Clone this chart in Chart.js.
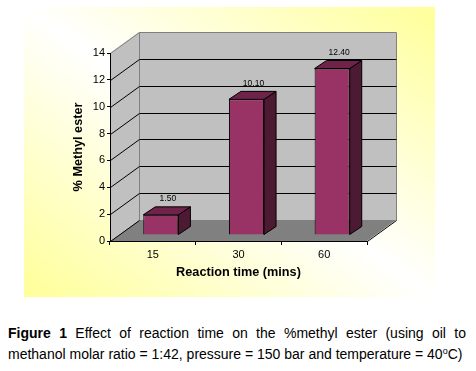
<!DOCTYPE html>
<html><head><meta charset="utf-8">
<script src="https://cdn.jsdelivr.net/npm/chart.js@4"></script>
<style>
html,body{margin:0;padding:0;background:#fff;width:476px;height:371px;overflow:hidden;font-family:"Liberation Sans",Arial,sans-serif;}
#box{position:absolute;left:24px;top:7px;width:411px;height:290px;background:linear-gradient(to top right,#ffff99 0%,#ffffff 50%,#ffff99 100%);}
#c{display:block;}
#cap{position:absolute;left:8px;top:323px;width:458px;font-size:14px;line-height:21px;color:#000;}
#cap .l1{text-align:justify;text-align-last:justify;}
sup{font-size:9px;vertical-align:5px;line-height:0;}
</style></head><body>
<div id="box"><canvas id="c" width="411" height="290"></canvas></div>
<div id="cap"><div class="l1"><b>Figure 1</b> Effect of reaction time on the %methyl ester (using oil to</div><div>methanol molar ratio = 1:42, pressure = 150 bar and temperature = 40<sup>o</sup>C)</div></div>
<script>
const categories = ['15', '30', '60'];
const methylEster = [1.5, 10.1, 12.4];
const yMin = 0, yMax = 14, yStep = 2;
const xTitle = 'Reaction time (mins)';
const yTitle = '% Methyl ester';

const DX = 29, DY = -21;   // wall depth
const SX = 8, SY = -6;     // bar front-face depth shift
const BX = 12, BY = -8;    // bar depth
const px = v => Math.round(v) + 0.5;

const threeD = {
  id: 'threeD',
  beforeDraw(chart) {
    const {ctx, chartArea: {left, right}, scales: {y}} = chart;
    const yT = y.getPixelForValue(yMax), y0 = y.getPixelForValue(yMin);
    ctx.save();
    ctx.lineWidth = 1;
    ctx.fillStyle = '#808080';
    ctx.beginPath();
    ctx.moveTo(left, y0); ctx.lineTo(left + DX, y0 + DY); ctx.lineTo(right + DX, y0 + DY); ctx.lineTo(right, y0);
    ctx.closePath(); ctx.fill();
    ctx.fillStyle = '#c0c0c0';
    ctx.fillRect(left + DX, yT + DY, right - left, y0 - yT);
    ctx.beginPath();
    ctx.moveTo(left, yT); ctx.lineTo(left + DX, yT + DY); ctx.lineTo(left + DX, y0 + DY); ctx.lineTo(left, y0);
    ctx.closePath(); ctx.fill();
    ctx.strokeStyle = '#808080';
    ctx.beginPath();
    ctx.moveTo(px(left), px(yT)); ctx.lineTo(px(left + DX), px(yT + DY));
    ctx.lineTo(px(right + DX), px(yT + DY)); ctx.lineTo(px(right + DX), px(y0 + DY));
    ctx.moveTo(px(left + DX), px(yT + DY)); ctx.lineTo(px(left + DX), px(y0 + DY));
    ctx.stroke();
    ctx.strokeStyle = '#000';
    ctx.beginPath();
    for (let v = yMin + yStep; v < yMax; v += yStep) {
      const yy = y.getPixelForValue(v);
      ctx.moveTo(px(left), px(yy)); ctx.lineTo(px(left + DX), px(yy + DY)); ctx.lineTo(px(right + DX), px(yy + DY));
    }
    ctx.moveTo(px(left), px(y0)); ctx.lineTo(px(left + DX), px(y0 + DY));
    ctx.moveTo(px(right), px(y0)); ctx.lineTo(px(right + DX), px(y0 + DY));
    ctx.stroke();
    ctx.restore();
  },
  beforeDatasetsDraw(chart) {
    chart.ctx.save();
    chart.ctx.translate(SX, SY);
  },
  afterDatasetsDraw(chart) {
    const ctx = chart.ctx;
    const meta = chart.getDatasetMeta(0);
    meta.data.forEach((el, i) => {
      const {x, y, base, width} = el.getProps(['x', 'y', 'base', 'width'], true);
      const l = x - width / 2, r = x + width / 2;
      ctx.lineWidth = 1; ctx.strokeStyle = '#000';
      ctx.fillStyle = '#4d1a33';
      ctx.beginPath();
      ctx.moveTo(r, y); ctx.lineTo(r + BX, y + BY); ctx.lineTo(r + BX, base + BY); ctx.lineTo(r, base);
      ctx.closePath(); ctx.fill(); ctx.stroke();
      ctx.fillStyle = '#70234a';
      ctx.beginPath();
      ctx.moveTo(l, y); ctx.lineTo(l + BX, y + BY); ctx.lineTo(r + BX, y + BY); ctx.lineTo(r, y);
      ctx.closePath(); ctx.fill(); ctx.stroke();
      ctx.fillStyle = '#000';
      ctx.font = '8.5px "Liberation Sans", Arial, sans-serif';
      ctx.textAlign = 'center'; ctx.textBaseline = 'middle';
      ctx.fillText(methylEster[i].toFixed(2), x + BX / 2 + 1, y + BY - 8);
    });
    ctx.restore();
  }
};

new Chart(document.getElementById('c'), {
  type: 'bar',
  data: {
    labels: categories,
    datasets: [{
      data: methylEster,
      backgroundColor: '#993366',
      borderColor: '#000',
      borderWidth: 1,
      barPercentage: 0.41,
      categoryPercentage: 1,
      clip: false
    }]
  },
  options: {
    responsive: false,
    animation: false,
    devicePixelRatio: 1,
    layout: {padding: {left: 0, right: 68, top: 46, bottom: 0}},
    plugins: {legend: {display: false}, tooltip: {enabled: false}},
    scales: {
      x: {
        afterFit: s => { s.height = 56; },
        grid: {offset: true, drawOnChartArea: false, drawTicks: true, tickLength: 4, color: '#000'},
        border: {display: true, color: '#000', width: 1},
        ticks: {color: '#000', padding: 3, font: {family: '"Liberation Sans", Arial, sans-serif', size: 11}},
        title: {display: true, text: xTitle, color: '#000', padding: {top: 0, bottom: 16.8},
          font: {family: '"Liberation Sans", Arial, sans-serif', size: 12.7, weight: 'bold', lineHeight: 1.2}}
      },
      y: {
        min: yMin, max: yMax,
        afterFit: s => { s.width = 86; },
        grid: {drawOnChartArea: false, drawTicks: true, tickLength: 3, color: '#000'},
        border: {display: true, color: '#000', width: 1},
        ticks: {stepSize: yStep, color: '#000', padding: 2, font: {family: '"Liberation Sans", Arial, sans-serif', size: 11}},
        title: {display: true, text: yTitle, color: '#000', padding: {top: 46.4, bottom: 0},
          font: {family: '"Liberation Sans", Arial, sans-serif', size: 12.7, weight: 'bold', lineHeight: 1.2}}
      }
    }
  },
  plugins: [threeD]
});
</script>
</body></html>
